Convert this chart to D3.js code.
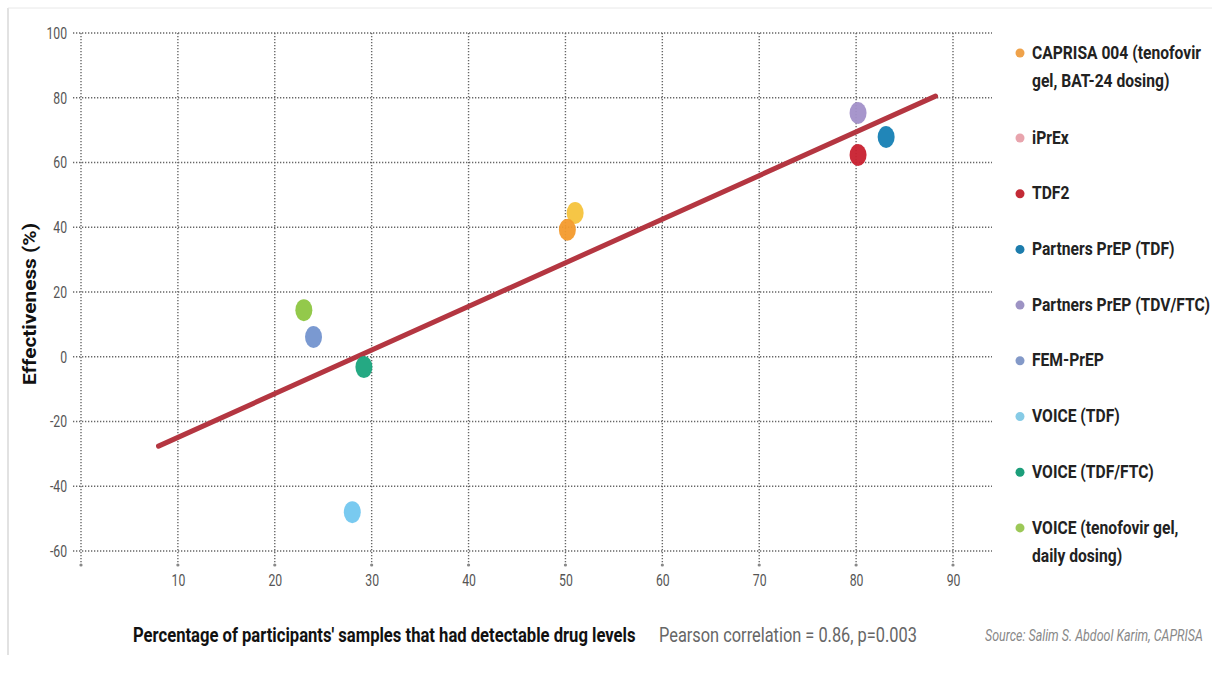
<!DOCTYPE html>
<html><head><meta charset="utf-8">
<script src="https://cdn.jsdelivr.net/npm/d3@7"></script>
<style>
html,body{margin:0;padding:0;background:#fff;}
svg{display:block;font-family:Roboto,'DejaVu Sans',sans-serif;}
</style></head>
<body>
<svg id="chart" width="1212" height="679"></svg>
<script>
const studies = ["CAPRISA 004 (tenofovir gel, BAT-24 dosing)","iPrEx","TDF2","Partners PrEP (TDF)","Partners PrEP (TDV/FTC)","FEM-PrEP","VOICE (TDF)","VOICE (TDF/FTC)","VOICE (tenofovir gel, daily dosing)"];
const legendLines = [["CAPRISA 004 (tenofovir","gel, BAT-24 dosing)"],["iPrEx"],["TDF2"],["Partners PrEP (TDF)"],["Partners PrEP (TDV/FTC)"],["FEM-PrEP"],["VOICE (TDF)"],["VOICE (TDF/FTC)"],["VOICE (tenofovir gel,","daily dosing)"]];
const detectable = [50.2, 51.0, 80.2, 83.1, 80.2, 24.0, 28.0, 29.2, 23.0];
const effectiveness = [39.2, 44.4, 62.3, 67.9, 75.3, 6.1, -48.0, -3.2, 14.4];
const pointColors = ["#f39a2c","#f6c33c","#c8202f","#1580b4","#a290c9","#7393cf","#72c7ef","#19a47c","#8dc641"];
const legendColors = ["#efa24a","#e8a4ad","#c32a36","#1c7cac","#9d93c4","#8399c8","#86cbe6","#1c9e7a","#9cc857"];
const xTicks = [10,20,30,40,50,60,70,80,90];
const yTicks = [100,80,60,40,20,0,-20,-40,-60];
const fitLine = [[8.0,-27.6],[88.2,80.5]];
const xTitle = "Percentage of participants' samples that had detectable drug levels";
const statText = "Pearson correlation = 0.86, p=0.003";
const sourceText = "Source: Salim S. Abdool Karim, CAPRISA";
const yTitle = "Effectiveness (%)";

const svg = d3.select("#chart");
const x = d3.scaleLinear().domain([0,90]).range([81,953]);
const y = d3.scaleLinear().domain([-60,100]).range([551,33]);

// place a text at (px,py) horizontally scaled so that its width becomes w (or factor k)
function placeScaled(t, px, py, opts){
  t.attr("x",0).attr("y",0);
  const w0 = t.node().getComputedTextLength();
  const k = opts.w ? opts.w / w0 : opts.k;
  const rot = opts.rot ? ` rotate(${opts.rot})` : "";
  t.attr("transform", `translate(${px},${py})${rot} scale(${k},1)`);
  return k;
}

// frame
svg.append("line").attr("x1",8).attr("x2",8).attr("y1",8).attr("y2",655).attr("stroke","#d8d8d8").attr("stroke-width",1.5);
svg.append("line").attr("x1",8).attr("x2",1212).attr("y1",8).attr("y2",8).attr("stroke","#e8e8e8").attr("stroke-width",1);

const grid = svg.append("g");
grid.selectAll(".vg").data([0].concat(xTicks)).join("line")
  .attr("x1",d=>x(d)).attr("x2",d=>x(d)).attr("y1",y(100)).attr("y2",565)
  .attr("stroke","#666").attr("stroke-width",1.4).attr("stroke-dasharray","1.3,1.7");
grid.selectAll(".vd").data([0].concat(xTicks)).join("circle")
  .attr("cx",d=>x(d)).attr("cy",565).attr("r",1.6).attr("fill","#888");
grid.selectAll(".hg").data(yTicks).join("line")
  .attr("x1",73).attr("x2",992).attr("y1",d=>y(d)).attr("y2",d=>y(d))
  .attr("stroke","#666").attr("stroke-width",1.4).attr("stroke-dasharray","1.3,1.7");

const tickFont = "Roboto,'DejaVu Sans',sans-serif";
const yAxis = svg.append("g").attr("transform","translate(70,0)")
  .call(d3.axisLeft(y).tickValues(yTicks).tickSize(0).tickPadding(0).tickFormat(d=>String(d)));
yAxis.select(".domain").remove();
yAxis.selectAll("text").attr("fill","#555").style("font-size","17px").style("font-family",tickFont)
  .attr("x",-4).attr("transform","scale(0.72,1)");

const xAxis = svg.append("g").attr("transform","translate(0,570)")
  .call(d3.axisBottom(x).tickValues(xTicks).tickSize(0).tickPadding(4).tickFormat(d=>String(d)));
xAxis.select(".domain").remove();
xAxis.selectAll("text").attr("fill","#555").style("font-size","17px").style("font-family",tickFont)
  .attr("transform","scale(0.72,1)");

// regression line
svg.append("line")
  .attr("x1",x(fitLine[0][0])).attr("y1",y(fitLine[0][1]))
  .attr("x2",x(fitLine[1][0])).attr("y2",y(fitLine[1][1]))
  .attr("stroke","#b43641").attr("stroke-width",5).attr("stroke-linecap","round");

// points
const pts = studies.map((s,i)=>({s, x:detectable[i], y:effectiveness[i], c:pointColors[i]}));
const drawOrder = [1,0,2,3,4,8,5,6,7];
svg.append("g").selectAll("ellipse").data(drawOrder.map(i=>pts[i])).join("ellipse")
  .attr("cx",d=>x(d.x)).attr("cy",d=>y(d.y)).attr("rx",8.5).attr("ry",11)
  .attr("fill",d=>d.c).attr("opacity",0.95);

// bottom title first, to compute squeeze factor
const xt = svg.append("text").attr("fill","#111")
  .style("font-weight","bold").style("font-size","20px").text(xTitle);
const kBold = placeScaled(xt, 133, 642, {w:503});

// legend
const lg = svg.append("g");
const legStep = 55.7;
legendLines.forEach((lines,i)=>{
  const yy = i===0 ? 52 : 137 + (i-1)*legStep;
  lg.append("circle").attr("cx",1020).attr("cy",yy+1).attr("r",4.5).attr("fill",legendColors[i]);
  lines.forEach((ln,j)=>{
    const t = lg.append("text").attr("dy","0.35em")
      .attr("fill","#222").style("font-weight","bold").style("font-size","19px").text(ln);
    placeScaled(t, 1032, yy + j*28, {k:kBold*0.99});
  });
});

// y title
const yt = svg.append("text").attr("text-anchor","middle").attr("fill","#111")
  .style("font-weight","bold").style("font-size","19px").text(yTitle);
placeScaled(yt, 36, 304, {w:162, rot:-90});

const st = svg.append("text").attr("fill","#666").style("font-size","20px").text(statText);
placeScaled(st, 659, 642, {w:258});
const so = svg.append("text").attr("fill","#888").style("font-style","italic").style("font-size","16px").text(sourceText);
placeScaled(so, 985, 641, {w:218});
</script>
</body></html>
